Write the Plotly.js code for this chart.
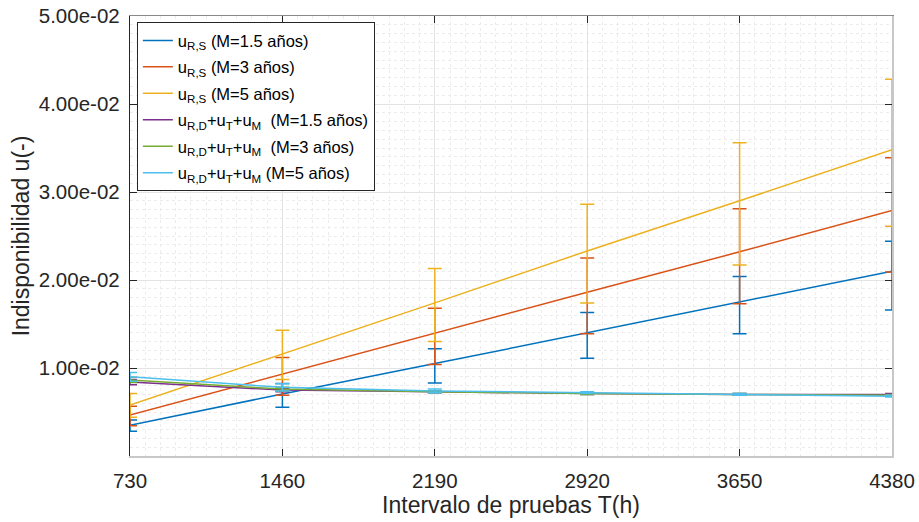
<!DOCTYPE html>
<html>
<head>
<meta charset="utf-8">
<script src="https://cdn.plot.ly/plotly-3.0.1.min.js"></script>
<style>html,body{margin:0;padding:0;background:#fff;}#chart{width:919px;height:522px;}</style>
</head>
<body>
<div id="chart"></div>
<script>
// Test interval T (h)
const T = [730, 1460, 2190, 2920, 3650, 4380];

// u_R,S series
const uRS_15 = [0.0035, 0.00705, 0.0105, 0.0140, 0.0175, 0.0210];
const uRS_15_plus = [0.0006, 0.0012, 0.0017, 0.0023, 0.0029, 0.0034];
const uRS_15_minus = [0.0007, 0.0015, 0.0022, 0.0029, 0.0036, 0.0044];

const uRS_3 = [0.00465, 0.0093, 0.0140, 0.0186, 0.0232, 0.0279];
const uRS_3_plus = [0.0010, 0.0019, 0.0028, 0.0039, 0.0049, 0.0060];
const uRS_3_minus = [0.0012, 0.0024, 0.0036, 0.0047, 0.0059, 0.0070];

const uRS_5 = [0.0058, 0.0116, 0.0174, 0.0233, 0.0290, 0.0348];
const uRS_5_plus = [0.0013, 0.0027, 0.0039, 0.0053, 0.0066, 0.0080];
const uRS_5_minus = [0.0014, 0.0029, 0.0044, 0.0059, 0.0073, 0.0087];

// u_R,D + u_T + u_M series
const uD_15 = [0.0084, 0.0075, 0.0073, 0.0071, 0.0070, 0.0070];
const uD_15_err = [0.0003, 0.0002, 0.0001, 0.0001, 0.0001, 0.0001];
const uD_3 = [0.00865, 0.0076, 0.0073, 0.0071, 0.0070, 0.0069];
const uD_3_err = [0.0003, 0.0002, 0.0001, 0.0001, 0.0001, 0.0001];
const uD_5 = [0.0090, 0.0078, 0.0074, 0.0072, 0.0070, 0.0068];
const uD_5_err = [0.0005, 0.0004, 0.0002, 0.0001, 0.0001, 0.0001];

const names = [
  'u<sub>R,S</sub> (M=1.5 años)',
  'u<sub>R,S</sub> (M=3 años)',
  'u<sub>R,S</sub> (M=5 años)',
  'u<sub>R,D</sub>+u<sub>T</sub>+u<sub>M</sub>  (M=1.5 años)',
  'u<sub>R,D</sub>+u<sub>T</sub>+u<sub>M</sub>  (M=3 años)',
  'u<sub>R,D</sub>+u<sub>T</sub>+u<sub>M</sub> (M=5 años)'
];
const colors = ['#0072BD', '#D95319', '#EDB120', '#7E2F8E', '#77AC30', '#4DBEEE'];

const yTickVals = [0.01, 0.02, 0.03, 0.04, 0.05];
const yTickText = ['1.00e-02', '2.00e-02', '3.00e-02', '4.00e-02', '5.00e-02'];

function tr(y, plus, minus, i) {
  return {
    x: T, y: y, type: 'scatter', mode: 'lines', name: names[i],
    legendgroup: 'g' + i,
    line: {color: colors[i], width: 1.5},
    error_y: {type: 'data', symmetric: false, array: plus, arrayminus: minus,
              color: colors[i], thickness: 1.5, width: 7},
    cliponaxis: true
  };
}

const data = [
  tr(uRS_15, uRS_15_plus, uRS_15_minus, 0),
  tr(uRS_3, uRS_3_plus, uRS_3_minus, 1),
  tr(uRS_5, uRS_5_plus, uRS_5_minus, 2),
  tr(uD_15, uD_15_err, uD_15_err, 3),
  tr(uD_3, uD_3_err, uD_3_err, 4),
  tr(uD_5, uD_5_err, uD_5_err, 5),
  // invisible trace hosting the mirrored top/right axes
  {x: [T[0]], y: [0], xaxis: 'x2', yaxis: 'y2', mode: 'markers', marker: {opacity: 0}, showlegend: false, hoverinfo: 'skip'}
];

const font = 'Liberation Sans, Arial, Helvetica, sans-serif';

const layout = {
  width: 919, height: 522,
  margin: {l: 130, r: 27, t: 16, b: 66},
  paper_bgcolor: '#ffffff', plot_bgcolor: '#ffffff',
  font: {family: font, color: '#262626', size: 20},
  showlegend: true,
  legend: {
    x: 0.009, y: 0.986, xanchor: 'left', yanchor: 'top',
    bgcolor: '#ffffff', bordercolor: '#262626', borderwidth: 1,
    font: {family: font, size: 16.5, color: '#000000'},
    tracegroupgap: 2, itemwidth: 30
  },
  xaxis: {
    range: [730, 4380], tickvals: T, ticktext: T.map(String),
    ticks: 'inside', ticklen: 7, tickcolor: '#262626', tickwidth: 1,
    showline: true, linecolor: '#c8c8c8', linewidth: 1.5, mirror: false,
    showgrid: true, gridcolor: '#e3e3e3', gridwidth: 1,
    minor: {dtick: 73, showgrid: true, gridcolor: '#ececec', griddash: 'dot', gridwidth: 1},
    zeroline: false, ticklabelstandoff: 6,
    tickfont: {size: 20.5, color: '#262626'},
    title: {text: 'Intervalo de pruebas T(h)', font: {size: 23, color: '#262626'}, standoff: 6}
  },
  yaxis: {
    range: [0, 0.05], tickvals: yTickVals, ticktext: yTickText,
    ticks: 'inside', ticklen: 7, tickcolor: '#262626', tickwidth: 1,
    showline: true, linecolor: '#262626', linewidth: 1.2, mirror: false,
    showgrid: true, gridcolor: '#e3e3e3', gridwidth: 1,
    minor: {dtick: 0.001, showgrid: true, gridcolor: '#ececec', griddash: 'dot', gridwidth: 1},
    zeroline: false, ticklabelstandoff: 5,
    tickfont: {size: 20.5, color: '#262626'},
    title: {text: 'Indisponibilidad u(-)', font: {size: 23, color: '#262626'}, standoff: 2}
  },
  xaxis2: {
    overlaying: 'x', side: 'top', range: [730, 4380], tickvals: T,
    showticklabels: false, ticks: 'inside', ticklen: 7, tickcolor: '#262626',
    showline: true, linecolor: '#8a8a8a', linewidth: 1.2, showgrid: false, zeroline: false,
    anchor: 'y2'
  },
  yaxis2: {
    overlaying: 'y', side: 'right', range: [0, 0.05], tickvals: yTickVals,
    showticklabels: false, ticks: 'inside', ticklen: 7, tickcolor: '#262626',
    showline: true, linecolor: '#c8c8c8', linewidth: 1.5, showgrid: false, zeroline: false,
    anchor: 'x2'
  }
};

Plotly.newPlot('chart', data, layout, {displayModeBar: false, staticPlot: true});
</script>
</body>
</html>
